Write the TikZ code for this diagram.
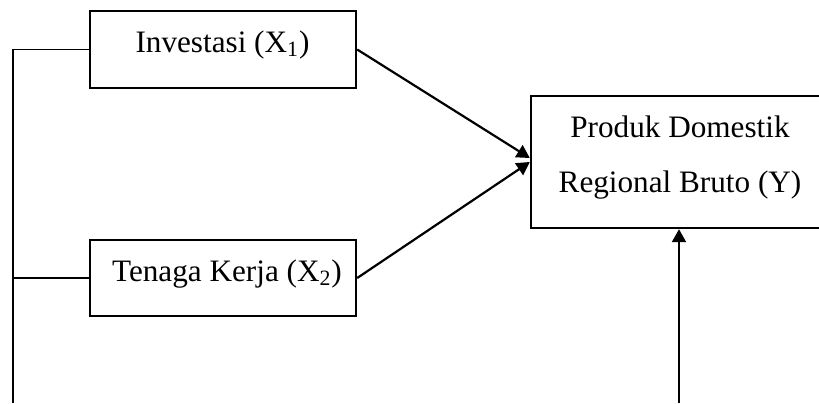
\documentclass[tikz,border=0pt]{standalone}
\usepackage{fontspec}
\setmainfont{Liberation Serif}
\usetikzlibrary{arrows.meta,calc}
\begin{document}
\begin{tikzpicture}[x=0.5pt,y=-0.5pt,
  box/.style={draw,line width=1.2pt,inner sep=0pt,minimum width=#1},
  txt/.style={anchor=base,inner sep=0pt,font=\fontsize{15.6pt}{18pt}\selectfont},
  thinline/.style={line width=0.75pt},
  arr/.style={line width=1.1pt,-{Triangle[length=6.5pt,width=7pt]}}]
\useasboundingbox (0,0) rectangle (819,403);
\clip (0,0) rectangle (819,403);
\node[box=133pt,minimum height=38.5pt] (b1) at (223,49.5) {};
\node[box=133pt,minimum height=38pt] (b2) at (223,278) {};
\node[box=149pt,minimum height=66pt] (yb) at (680,162) {};
\node[txt] (t1) at (222.5,52.3) {Investasi (X\textsubscript{1})};
\node[txt] (t2) at (227,281) {Tenaga Kerja (X\textsubscript{2})};
\node[txt] (t3) at (680,137) {Produk Domestik};
\node[txt] (t4) at (680,192) {Regional Bruto (Y)};
\coordinate (lb) at (13,403);
\coordinate (vb) at (679,403);
\coordinate (e1) at ($(yb.west)+(0,-4)$);
\coordinate (e2) at ($(yb.west)+(0,0)$);
\draw[thinline] (b1.west) -| (lb);
\draw[thinline] (b2.west) -- (b2.west -| lb);
\draw[arr] (b1.east) -- (e1);
\draw[arr] (b2.east) -- (e2);
\draw[arr] (vb) -- (vb |- yb.south);
\end{tikzpicture}
\end{document}
